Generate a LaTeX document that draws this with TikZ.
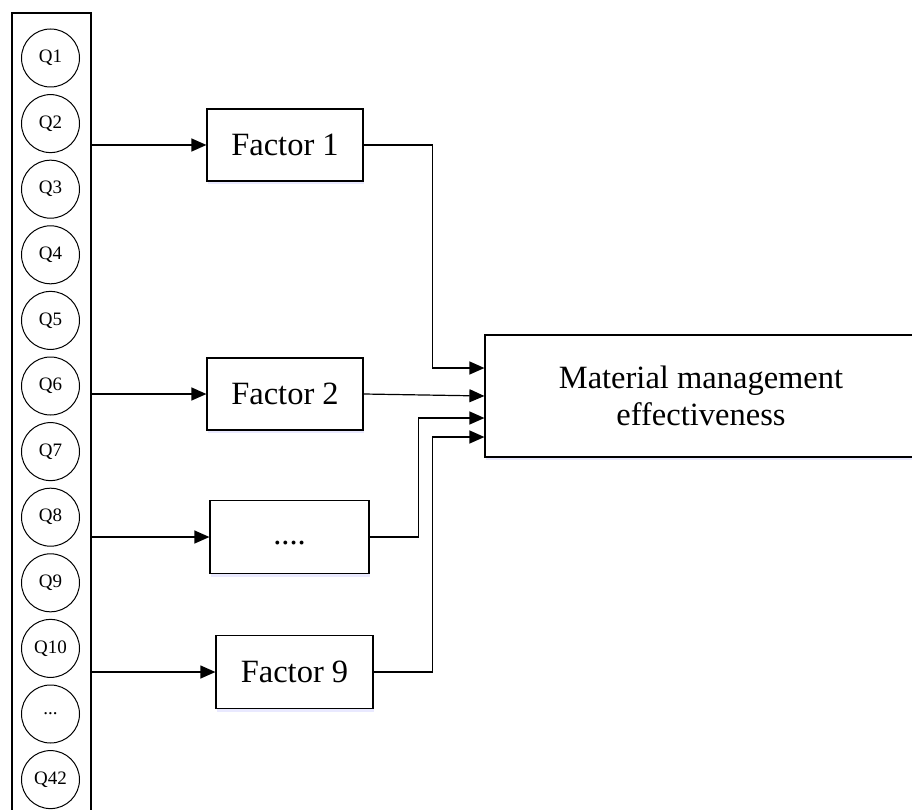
\documentclass[tikz,border=0pt]{standalone}
\usepackage{fontspec}
\setmainfont{Liberation Serif}
\usepackage{tikz}
\usetikzlibrary{arrows.meta,positioning,calc,shadows}

\begin{document}
\begin{tikzpicture}[
  x=1pt,y=-1pt,
  font=\fontsize{32.5}{37}\selectfont,
  node distance=6.6pt,
  qnode/.style={circle,draw,line width=1pt,minimum size=58pt,inner sep=0pt,
    font=\fontsize{19}{21}\selectfont},
  fbox/.style={rectangle,draw,line width=1.2pt,fill=white,minimum width=156pt,
    minimum height=72pt,inner sep=2pt,
    drop shadow={shadow xshift=1pt,shadow yshift=-3pt,fill=blue!25,opacity=0.35}},
  arr/.style={-{Triangle[length=15pt,width=13pt]},line width=1.2pt}]
\useasboundingbox (0,0) rectangle (912,810);

% item column
\node[draw,line width=1.2pt,minimum width=79pt,minimum height=800pt,inner sep=0pt] (col) at (51.5,413) {};
\node[qnode] (q1) at (50.5,58) {Q1};
\node[qnode,below=of q1] (q2) {Q2};
\node[qnode,below=of q2] (q3) {Q3};
\node[qnode,below=of q3] (q4) {Q4};
\node[qnode,below=of q4] (q5) {Q5};
\node[qnode,below=of q5] (q6) {Q6};
\node[qnode,below=of q6] (q7) {Q7};
\node[qnode,below=of q7] (q8) {Q8};
\node[qnode,below=of q8] (q9) {Q9};
\node[qnode,below=of q9] (q10) {Q10};
\node[qnode,below=of q10] (qdots) {...};
\node[qnode,below=of qdots] (q42) {Q42};

% factors
\node[fbox] (f1) at (285,145) {Factor 1};
\node[fbox] (f2) at (285,394) {Factor 2};
\node[fbox,minimum width=159pt,minimum height=73pt] (fdots) at (289.5,537) {\strut....};
\node[fbox,minimum width=157pt,minimum height=73pt] (f9) at (294.5,672) {Factor 9};

\node[fbox,minimum width=432pt,minimum height=122pt,align=center] (mme) at (701,396)
  {Material management\\effectiveness};

\coordinate (in1) at ([yshift=28pt]mme.west);
\coordinate (in2) at (mme.west);
\coordinate (in3) at ([yshift=-22pt]mme.west);
\coordinate (in4) at ([yshift=-41pt]mme.west);

\draw[arr] (col.east |- f1) -- (f1);
\draw[arr] (col.east |- f2) -- (f2);
\draw[arr] (col.east |- fdots) -- (fdots);
\draw[arr] (col.east |- f9) -- (f9);

\draw[arr] (f1.east) -| ($(in1)+(-52,0)$) -- (in1);
\draw[arr] (f2.east) -- (in2);
\draw[arr] (fdots.east) -| ($(in3)+(-66,0)$) -- (in3);
\draw[arr] (f9.east) -| ($(in4)+(-52,0)$) -- (in4);
\end{tikzpicture}
\end{document}
